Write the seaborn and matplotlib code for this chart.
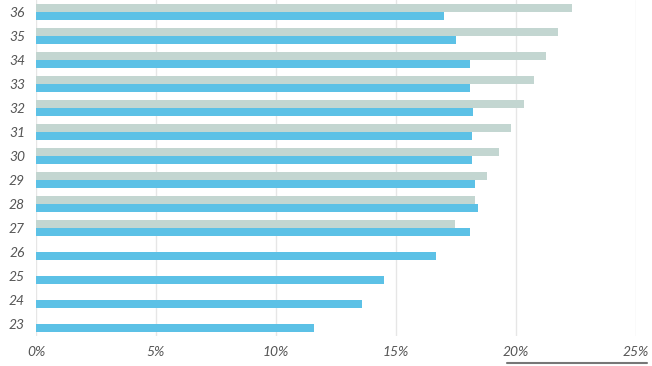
import numpy as np
import pandas as pd
import seaborn as sns
import matplotlib.pyplot as plt
from matplotlib.lines import Line2D

# data (percent)
ages = ["36", "35", "34", "33", "32", "31", "30", "29", "28", "27", "26", "25", "24", "23"]
grey_vals = [22.35, 21.75, 21.25, 20.75, 20.35, 19.8, 19.3, 18.8, 18.3, 17.45,
             np.nan, np.nan, np.nan, np.nan]
blue_vals = [17.0, 17.5, 18.1, 18.1, 18.2, 18.15, 18.15, 18.3, 18.4, 18.1,
             16.67, 14.5, 13.58, 11.58]
x_ticks = [0, 5, 10, 15, 20, 25]

df = pd.concat([
    pd.DataFrame(dict(age=ages, pct=grey_vals, series="grey")),
    pd.DataFrame(dict(age=ages, pct=blue_vals, series="blue")),
]).reset_index(drop=True)

sns.set_theme(style="white")
plt.rcParams['font.family'] = ['Lato', 'DejaVu Sans']

fig = plt.figure(figsize=(6.52, 3.66), dpi=100)
ax = fig.add_axes([36 / 652, 1 - 336 / 366, 600 / 652, 336 / 366])

sns.barplot(data=df, y="age", x="pct", hue="series", order=ages,
            hue_order=["grey", "blue"],
            palette={"grey": "#c3d6d1", "blue": "#5cc1e6"},
            width=0.67, orient="h", ax=ax, legend=False, saturation=1,
            linewidth=0)

ax.set_xlim(0, 25)
ax.set_xticks(x_ticks)
ax.set_xticklabels([f"{t}%" for t in x_ticks])
ax.set_xlabel("")
ax.set_ylabel("")
ax.grid(axis="x", color="#e6e6e6", lw=1)
ax.set_axisbelow(True)
sns.despine(ax=ax, left=True, bottom=True)
ax.tick_params(axis="both", length=0, labelsize=10, labelcolor="#555555")
ax.tick_params(axis="x", pad=7)
ax.tick_params(axis="y", pad=8)
for lab in ax.get_xticklabels() + ax.get_yticklabels():
    lab.set_fontstyle("italic")

fig.add_artist(Line2D([507 / 652, 647 / 652], [1 - 363 / 366, 1 - 363 / 366],
                      color="#777777", lw=1.5))

plt.savefig("out.png", dpi=100)
